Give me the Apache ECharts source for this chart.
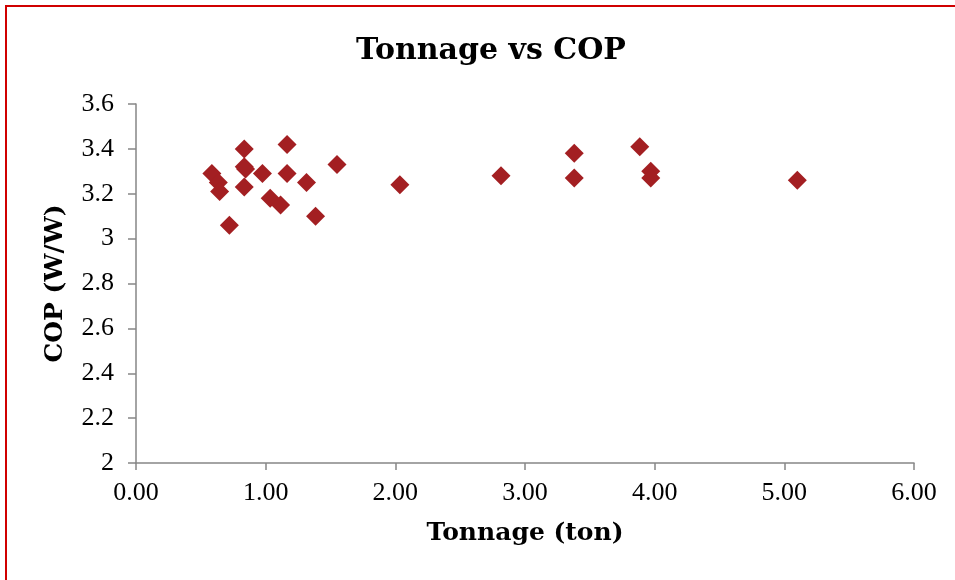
<!DOCTYPE html>
<html>
<head>
<meta charset="utf-8">
<script src="https://cdn.jsdelivr.net/npm/echarts@6/dist/echarts.min.js"></script>
<style>
html,body{margin:0;padding:0;background:#fff;}
#chart{width:955px;height:580px;}
</style>
</head>
<body>
<div id="chart"></div>
<script>
const tonnage = [0.585, 0.635, 0.645, 0.72, 0.835, 0.835, 0.845, 0.835, 0.975, 1.165, 1.165, 1.035, 1.115, 1.315, 1.385, 1.55, 2.035, 2.815, 3.38, 3.38, 3.885, 3.97, 3.97, 5.10];
const cop     = [3.29, 3.25, 3.21, 3.06, 3.40, 3.32, 3.31, 3.23, 3.29, 3.42, 3.29, 3.18, 3.15, 3.25, 3.10, 3.33, 3.24, 3.28, 3.38, 3.27, 3.41, 3.30, 3.27, 3.26];
const chartTitle = 'Tonnage vs COP';
const xTitle = 'Tonnage (ton)';
const yTitle = 'COP (W/W)';

const points = tonnage.map((t, i) => [t, cop[i]]);
const boldSerif = '"DejaVu Serif", serif';
const tickSerif = '"Liberation Serif", serif';

const chart = echarts.init(document.getElementById('chart'));
chart.setOption({
  animation: false,
  backgroundColor: '#ffffff',
  graphic: [{
    type: 'rect',
    shape: { x: 6, y: 6, width: 960, height: 600 },
    style: { fill: 'none', stroke: '#d00000', lineWidth: 2 },
    silent: true
  }],
  title: {
    text: chartTitle,
    left: 486,
    textAlign: 'center',
    top: 31,
    textStyle: { fontFamily: boldSerif, fontWeight: 'bold', fontSize: 30, color: '#000' }
  },
  grid: { left: 136, right: 41, top: 104, bottom: 117, containLabel: false },
  xAxis: {
    type: 'value',
    min: 0, max: 6, interval: 1,
    name: xTitle,
    nameLocation: 'middle',
    nameGap: 58,
    nameTextStyle: { fontFamily: boldSerif, fontWeight: 'bold', fontSize: 25, color: '#000' },
    axisLine: { show: true, lineStyle: { color: '#868686', width: 1.5 } },
    axisTick: { show: true, length: 7, lineStyle: { color: '#868686', width: 1.5 } },
    axisLabel: { fontFamily: tickSerif, fontSize: 26, color: '#000', margin: 17, formatter: v => v.toFixed(2) },
    splitLine: { show: false }
  },
  yAxis: {
    type: 'value',
    min: 2, max: 3.6, interval: 0.2,
    name: yTitle,
    nameLocation: 'middle',
    nameGap: 68,
    nameRotate: 90,
    nameTextStyle: { fontFamily: boldSerif, fontWeight: 'bold', fontSize: 25, color: '#000' },
    axisLine: { show: true, lineStyle: { color: '#868686', width: 1.5 } },
    axisTick: { show: true, length: 8, lineStyle: { color: '#868686', width: 1.5 } },
    axisLabel: { fontFamily: tickSerif, fontSize: 26, color: '#000', margin: 22,
      formatter: v => String(Math.round(v * 10) / 10) },
    splitLine: { show: false }
  },
  series: [{
    type: 'scatter',
    data: points,
    symbol: 'diamond',
    symbolSize: [19, 19],
    itemStyle: { color: '#a31f22', opacity: 1 }
  }]
});
</script>
</body>
</html>
